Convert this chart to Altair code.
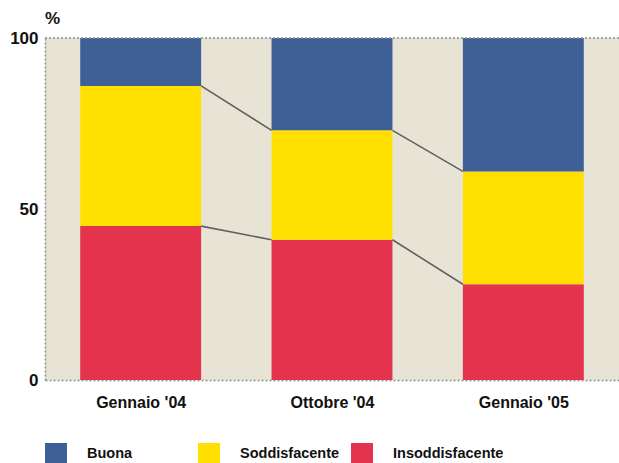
import json
import altair as alt
import pandas as pd

categories = ["Gennaio '04", "Ottobre '04", "Gennaio '05"]
series = ["Insoddisfacente", "Soddisfacente", "Buona"]  # bottom to top
insoddisfacente = [45, 41, 28]
soddisfacente = [41, 32, 33]
buona = [14, 27, 39]
y_ticks = [0, 50, 100]

colors = {"Buona": "#3F6096", "Soddisfacente": "#FFE000", "Insoddisfacente": "#E3334D"}
legend_order = ["Buona", "Soddisfacente", "Insoddisfacente"]

values = {"Insoddisfacente": insoddisfacente, "Soddisfacente": soddisfacente, "Buona": buona}
rows = []
for i, cat in enumerate(categories):
    cum = 0
    for s in series:
        v = values[s][i]
        rows.append({"idx": i, "cat": cat, "series": s, "start": cum, "end": cum + v})
        cum += v
bars_df = pd.DataFrame(rows)

# connector segments between tops of red and yellow stacks
seg_rows = []
for level in range(2):
    tops = []
    for i in range(len(categories)):
        tops.append(sum(values[s][i] for s in series[: level + 1]))
    for i in range(len(categories) - 1):
        seg_rows.append({"i0": i, "i1": i + 1, "y0": tops[i], "y1": tops[i + 1]})
seg_df = pd.DataFrame(seg_rows)

HALF = 0.316
FONT = "Liberation Sans"

xscale = alt.Scale(domain=[-0.5, len(categories) - 0.5], nice=False, zero=False)
yscale = alt.Scale(domain=[0, 100], nice=False)

label_expr = json.dumps(categories) + "[datum.value]"

bars = alt.Chart(bars_df).transform_calculate(
    xa=f"datum.idx - {HALF}", xb=f"datum.idx + {HALF}"
).mark_bar(stroke=None).encode(
    x=alt.X("xa:Q", scale=xscale,
            axis=alt.Axis(values=list(range(len(categories))), labelExpr=label_expr,
                          title=None, ticks=False, grid=False, labelPadding=14,
                          labelFont=FONT, labelFontSize=16, labelFontWeight="bold",
                          labelColor="#111", domainColor="#8a8a8a", domainDash=[2, 2],
                          domainWidth=1.5)),
    x2="xb:Q",
    y=alt.Y("start:Q", scale=yscale,
            axis=alt.Axis(values=y_ticks, title="%", titleAngle=0, titleX=7, titleY=-20,
                          titleAlign="center", titleBaseline="middle", titleFont=FONT,
                          titleFontSize=17, titleFontWeight="bold", titleColor="#111",
                          ticks=False, grid=False, labelPadding=7, labelFont=FONT,
                          labelFontSize=17, labelFontWeight="bold", labelColor="#111",
                          domainColor="#8a8a8a", domainDash=[2, 2], domainWidth=1.5)),
    y2="end:Q",
    color=alt.Color("series:N",
                    scale=alt.Scale(domain=legend_order, range=[colors[s] for s in legend_order]),
                    legend=alt.Legend(title=None, orient="none", legendX=0, legendY=405,
                                      direction="horizontal", gridAlign="all", columnPadding=0,
                                      symbolType="square", symbolSize=484, symbolStrokeWidth=0,
                                      symbolOpacity=1, labelOffset=20, labelFont=FONT,
                                      labelFontSize=14.5, labelFontWeight="bold",
                                      labelColor="#111", labelLimit=300)),
)

lines = alt.Chart(seg_df).transform_calculate(
    xa=f"datum.i0 + {HALF}", xb=f"datum.i1 - {HALF}"
).mark_rule(color="#606060", strokeWidth=1.6).encode(
    x=alt.X("xa:Q", scale=xscale),
    x2="xb:Q",
    y=alt.Y("y0:Q", scale=yscale),
    y2="y1:Q",
)

top = alt.Chart(pd.DataFrame({"v": [100]})).mark_rule(
    color="#8a8a8a", strokeDash=[2, 2], strokeWidth=1.5
).encode(y=alt.Y("v:Q", scale=yscale))

chart = alt.layer(bars, lines, top).properties(
    width=574, height=342,
    padding={"left": 45, "top": 38, "right": 0, "bottom": 83},
    autosize=alt.AutoSizeParams(type="none"),
    background="white",
).configure_view(fill="#E8E4D5", stroke=None)

chart.save("out.html", embed_options={"renderer": "svg", "actions": False})
